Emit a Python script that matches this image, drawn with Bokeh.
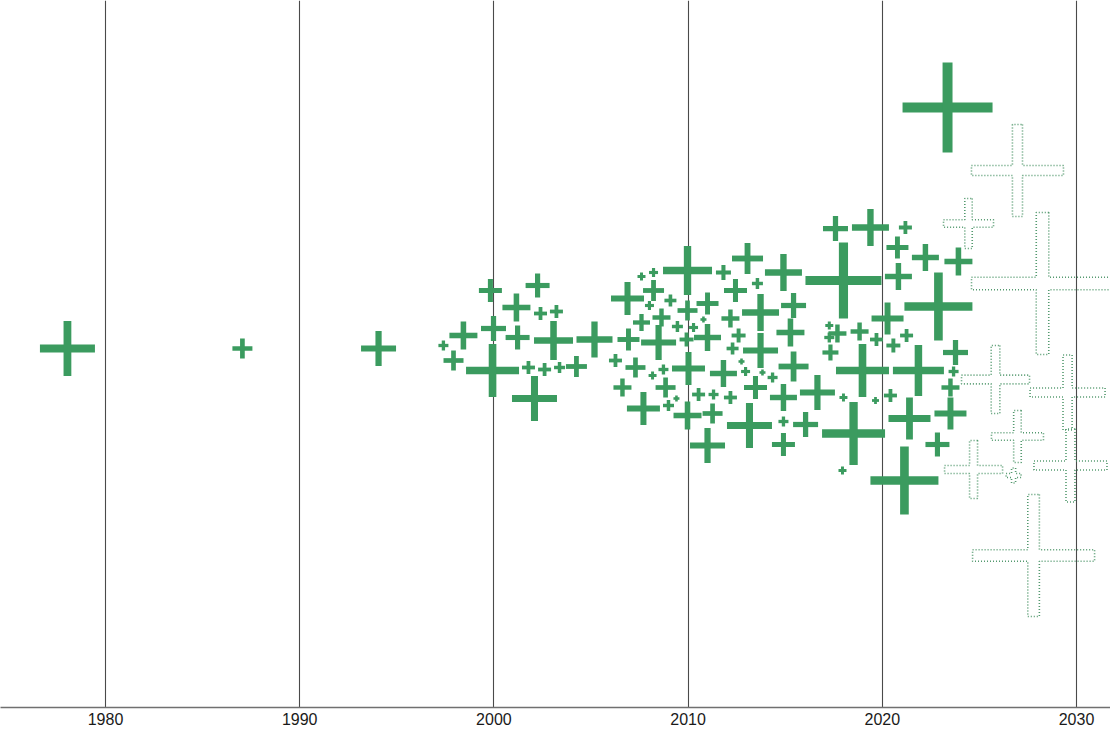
import math
from bokeh.plotting import figure
from bokeh.models import Range1d, ColumnDataSource, FixedTicker
from bokeh.embed import file_html
from bokeh.resources import INLINE

# ---------------- data ----------------
# observed items: year, swarm offset (vertical position units), magnitude
years = [
    1978.04, 1987.05, 1994.06,
    1997.40, 1997.92, 1998.43, 1999.82, 1999.98, 1999.93, 2001.16, 2001.22, 2002.25,
    2002.40, 2003.22, 2003.07, 2001.78, 2002.61, 2003.38, 2004.25, 2002.09, 2005.18,
    2007.60, 2008.22, 2009.97, 2006.88, 2008.22, 2008.01, 2009.09, 2009.97, 2011.00,
    2008.63, 2007.60, 2009.45, 2010.28, 2010.79, 2008.48, 2006.93, 2009.92, 2011.00,
    2006.26, 2007.29, 2008.17, 2008.73, 2010.02, 2006.62, 2008.84, 2009.40, 2008.99,
    2007.70, 2009.97, 2010.54, 2011.31, 2011.26, 2011.00,
    2013.06, 2011.82, 2014.91, 2012.44, 2013.57, 2013.73, 2015.43, 2012.18, 2012.60,
    2015.27, 2012.29, 2013.73, 2011.82, 2012.75, 2012.96, 2013.83, 2014.35, 2015.43,
    2013.47, 2012.18, 2014.91, 2016.66, 2013.16, 2014.91, 2016.05, 2014.91,
    2017.59, 2019.39, 2021.19, 2020.78, 2022.22, 2023.92, 2018.00, 2020.83, 2022.89,
    2020.27, 2017.27, 2017.27, 2017.69, 2018.83, 2019.70, 2020.57, 2021.25, 2017.33,
    2023.77, 2018.98, 2021.86, 2023.67, 2023.51, 2018.00, 2019.65, 2020.42, 2018.52,
    2021.40, 2023.51, 2022.84, 2017.95, 2021.14, 2023.36,
]
offsets = [
    0, 0, 0,
    3, -12, 13, 58, 20, -22, 41, 11, 63,
    35, 37, 8, -19, -21, -19, -18, -50, 9,
    72, 76, 78, 50, 58, 43, 48, 38, 45,
    31, 26, 22, 21, 29, 6, 9, 9, 11,
    -12, -19, -27, -21, -20, -39, -39, -50, -57,
    -60, -67, -46, -46, -65, -97,
    90, 76, 76, 58, 65, 36, 43, 30, 13,
    16, 0, -2, -25, -13, -23, -24, -29, -18,
    -39, -49, -49, -44, -77, -73, -76, -96,
    120, 121, 121, 101, 91, 87, 68, 72, 42,
    30, 23, 11, 15, 17, 9, 3, 13, -4,
    -4, -22, -22, -23, -39, -49, -52, -47, -85,
    -70, -65, -96, -122, -132, 241,
]
magnitude = [
    5.5, 2.0, 3.5,
    1.0, 2.0, 2.8, 2.3, 2.5, 5.3, 2.8, 2.4, 2.4,
    1.3, 1.3, 3.9, 1.3, 1.3, 1.1, 2.1, 4.5, 3.6,
    0.8, 0.9, 4.9, 3.3, 2.1, 0.9, 1.2, 2.0, 2.2,
    1.8, 1.7, 1.1, 0.9, 0.6, 3.5, 2.2, 1.4, 2.7,
    1.3, 2.0, 0.8, 1.0, 3.3, 1.8, 2.0, 0.6, 1.1,
    3.3, 2.8, 1.3, 1.0, 2.0, 3.5,
    3.1, 1.5, 3.7, 2.3, 1.1, 3.7, 2.5, 1.8, 1.4,
    2.8, 1.2, 3.5, 2.7, 0.6, 0.9, 0.6, 1.0, 3.0,
    2.3, 1.3, 2.7, 3.5, 4.5, 1.0, 2.5, 2.3,
    2.5, 3.7, 1.3, 2.2, 2.7, 2.8, 7.6, 2.7, 6.8,
    3.2, 0.8, 1.0, 1.8, 1.8, 1.3, 1.4, 1.3, 1.6,
    2.5, 5.3, 5.1, 1.0, 1.8, 0.8, 0.7, 1.3, 6.3,
    4.2, 3.2, 2.4, 0.8, 6.8, 9.0,
]

# projected items (dotted outlines)
proj_years = [2026.96, 2024.44, 2028.25, 2025.83, 2029.54, 2029.69, 2026.96, 2026.76, 2024.70, 2027.79]
proj_offsets = [178, 125, 65, -31, -44, -117, -88, -127, -121, -207]
proj_magnitude = [9.2, 5.0, 14.2, 6.8, 7.5, 7.3, 5.2, 1.5, 5.8, 12.2]

tick_years = [1980, 1990, 2000, 2010, 2020, 2030]

# ---------------- layout / style ----------------
FRAME_W, FRAME_H = 1110, 707
X0, X1 = 1974.593, 2031.751
Y0, Y1 = -359, 348
PX_PER_UNIT = 10.0          # magnitude -> screen size
GREEN = "#3b9b5f"
DOT_GREEN = "#4a9466"


def size_px(m):
    return m * PX_PER_UNIT


def thick_px(m):
    return 1.05 * math.sqrt(size_px(m))


p = figure(
    frame_width=FRAME_W, frame_height=FRAME_H,
    x_range=Range1d(X0, X1), y_range=Range1d(Y0, Y1),
    output_backend="svg", toolbar_location=None,
    y_axis_location=None, min_border=0,
)
p.outline_line_color = None
p.background_fill_color = "white"
p.border_fill_color = "white"

p.ygrid.visible = False
p.xgrid.ticker = FixedTicker(ticks=tick_years)
p.xgrid.grid_line_color = "#4a4a4a"
p.xgrid.grid_line_width = 1.1

p.xaxis.ticker = FixedTicker(ticks=tick_years)
p.xaxis.axis_line_color = "#707070"
p.xaxis.axis_line_width = 1.6
p.xaxis.major_tick_out = 0
p.xaxis.major_tick_in = 0
p.xaxis.minor_tick_out = 0
p.xaxis.minor_tick_in = 0
p.xaxis.major_label_text_font = "Liberation Sans"
p.xaxis.major_label_text_font_size = "16px"
p.xaxis.major_label_text_color = "#1a1a1a"
p.xaxis.major_label_standoff = 5

# dotted projected crosses as plus-shaped outlines
kx = (X1 - X0) / FRAME_W
ky = (Y1 - Y0) / FRAME_H
pxs, pys = [], []
for x, y, m in zip(proj_years, proj_offsets, proj_magnitude):
    h = size_px(m) / 2.0
    a = thick_px(m) / 2.0
    pts = [(a, h), (a, a), (h, a), (h, -a), (a, -a), (a, -h),
           (-a, -h), (-a, -a), (-h, -a), (-h, a), (-a, a), (-a, h)]
    pxs.append([x + dx * kx for dx, dy in pts])
    pys.append([y + dy * ky for dx, dy in pts])
p.patches(pxs, pys, fill_color=None, line_color=DOT_GREEN, line_width=1.6,
          line_dash="1 2", line_alpha=0.95)

# solid crosses: two screen-sized bars each
src = ColumnDataSource(dict(
    x=years, y=offsets,
    w=[size_px(m) for m in magnitude],
    t=[thick_px(m) for m in magnitude],
))
p.rect(x="x", y="y", width="w", height="t", width_units="screen", height_units="screen",
       source=src, fill_color=GREEN, line_color=None)
p.rect(x="x", y="y", width="t", height="w", width_units="screen", height_units="screen",
       source=src, fill_color=GREEN, line_color=None)

open("out.html", "w").write(file_html(p, INLINE))
